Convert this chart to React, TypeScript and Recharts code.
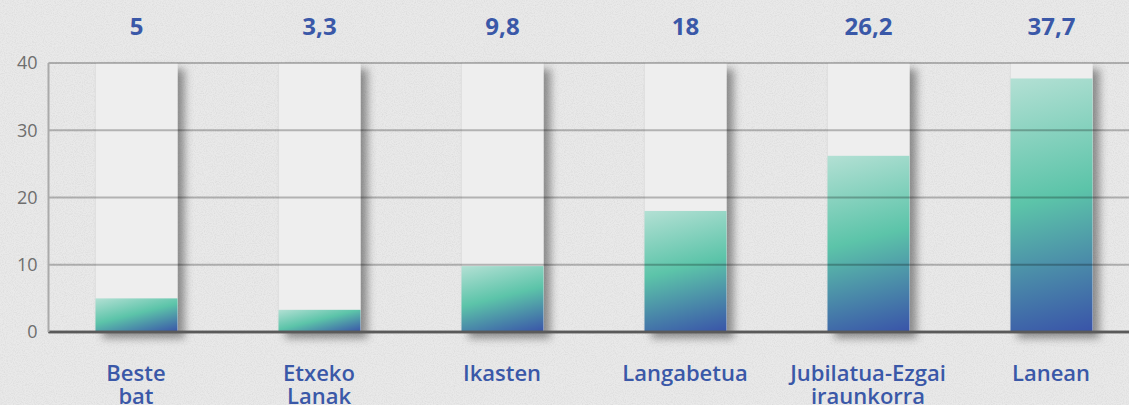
import React from "react";
import { BarChart, Bar, XAxis, YAxis, CartesianGrid, LabelList, ReferenceLine } from "recharts";

const categories = ["Beste bat", "Etxeko Lanak", "Ikasten", "Langabetua", "Jubilatua-Ezgai iraunkorra", "Lanean"];
const values = [5, 3.3, 9.8, 18, 26.2, 37.7];
const yTicks = [0, 10, 20, 30, 40];

const data = categories.map((c, i) => ({ name: c, value: values[i] }));

const FONT = "'Open Sans', 'Noto Sans', sans-serif";
const BLUE = "#3a58a8";

const fmt = (v: number) => String(v).replace(".", ",");

const GradientBar = (props: any) => {
  const { x, y, width, height, index } = props;
  if (!width || !height) return null;
  const ang = (166 * Math.PI) / 180;
  const dx = Math.sin(ang);
  const dy = -Math.cos(ang);
  const L = Math.abs(width * Math.sin(ang)) + Math.abs(height * Math.cos(ang));
  const cx = x + width / 2;
  const cy = y + height / 2;
  const id = `barGrad${index}`;
  return (
    <g>
      <defs>
        <linearGradient
          id={id}
          gradientUnits="userSpaceOnUse"
          x1={cx - (dx * L) / 2}
          y1={cy - (dy * L) / 2}
          x2={cx + (dx * L) / 2}
          y2={cy + (dy * L) / 2}
        >
          <stop offset="0" stopColor="#b3e0d4" />
          <stop offset="0.47" stopColor="#5cc4a9" />
          <stop offset="1" stopColor="#3953a9" />
        </linearGradient>
      </defs>
      <rect x={x} y={y} width={width} height={height} fill={`url(#${id})`} />
    </g>
  );
};

const Panel = (props: any) => {
  const { x, y, width, height } = props;
  return (
    <g>
      <rect x={x} y={y} width={width} height={height} fill="#eeeeee" filter="url(#panelShadow)" />
      <line x1={x} y1={y} x2={x} y2={y + height} stroke="#e0e0e0" strokeWidth={1} />
    </g>
  );
};

const CatTick = (props: any) => {
  const { x, y, payload } = props;
  const lines = String(payload.value).split(" ");
  return (
    <text x={x} y={y} textAnchor="middle" fill={BLUE} fontFamily={FONT} fontSize={22} fontWeight={600}>
      {lines.map((l, i) => (
        <tspan key={i} x={x} dy={i === 0 ? 49 : 23}>
          {l}
        </tspan>
      ))}
    </text>
  );
};

const ValueLabel = (props: any) => {
  const { x, width, value } = props;
  return (
    <text x={x + width / 2} y={35} textAnchor="middle" fill={BLUE} fontFamily={FONT} fontSize={24} fontWeight={700}>
      {fmt(value)}
    </text>
  );
};

export default function App() {
  return (
    <div
      style={{
        position: "fixed",
        left: 0,
        top: 0,
        width: 1129,
        height: 405,
        overflow: "hidden",
        background: "#e9e9e9",
      }}
    >
      <svg width={1129} height={405} style={{ position: "absolute", left: 0, top: 0 }}>
        <defs>
          <filter id="tex" x="0" y="0" width="100%" height="100%">
            <feTurbulence type="fractalNoise" baseFrequency="0.9" numOctaves="2" seed="3" />
            <feColorMatrix type="matrix" values="0 0 0 0 0.5  0 0 0 0 0.5  0 0 0 0 0.5  0 0 0 -1.8 1.1" />
          </filter>
        </defs>
        <rect width={1129} height={405} filter="url(#tex)" opacity={0.3} />
      </svg>
      <div style={{ position: "absolute", left: 0, top: 0 }}>
        <BarChart
          width={1150}
          height={405}
          data={data}
          margin={{ top: 63, right: 7.5, left: 0.5, bottom: 43 }}
          barSize={82}
        >
          <defs>
            <filter id="panelShadow" x="-20%" y="-10%" width="160%" height="130%">
              <feDropShadow dx="7" dy="6" stdDeviation="4.5" floodColor="#000" floodOpacity="0.4" />
            </filter>
          </defs>
          <XAxis
            dataKey="name"
            height={30}
            padding={{ left: -4, right: 0 }}
            axisLine={{ stroke: "#5a5a5a", strokeWidth: 2.5 }}
            tickLine={false}
            tickSize={0}
            tickMargin={0}
            tick={<CatTick />}
            interval={0}
          />
          <YAxis
            domain={[0, 40]}
            ticks={yTicks}
            width={48}
            axisLine={{ stroke: "#aaaaaa", strokeWidth: 2 }}
            tickLine={false}
            tickSize={0}
            tickMargin={11}
            tick={{ fill: "#6e6e6e", fontSize: 18, fontFamily: FONT }}
          />
          <Bar dataKey="value" isAnimationActive={false} shape={<GradientBar />} background={<Panel />}>
            <LabelList dataKey="value" content={<ValueLabel />} />
          </Bar>
          <CartesianGrid vertical={false} stroke="#000" strokeOpacity={0.25} strokeWidth={2} zIndex={400} />
          <ReferenceLine y={0} stroke="#5c5c5c" strokeWidth={2.5} zIndex={450} />
        </BarChart>
      </div>
    </div>
  );
}
